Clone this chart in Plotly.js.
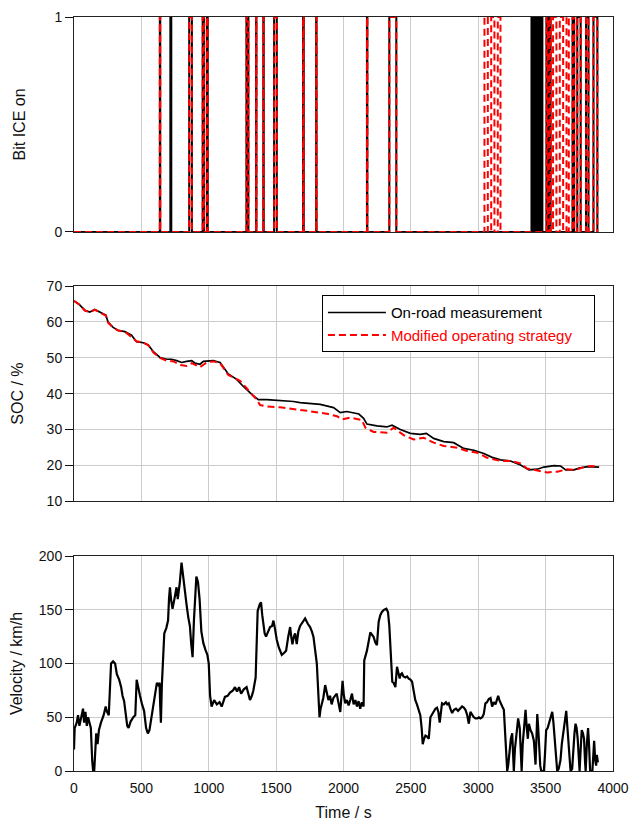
<!DOCTYPE html>
<html>
<head>
<meta charset="utf-8">
<script src="https://cdn.plot.ly/plotly-3.0.1.min.js"></script>
<style>html,body{margin:0;padding:0;background:#fff;}#chart{width:630px;height:822px;}</style>
</head>
<body>
<div id="chart"></div>
<script>
// ---- Bit ICE on: on-intervals (start / end, s) ----
const iceOnRoadStart = [637, 715, 855, 955, 986, 1280, 1351, 1405, 1485, 1700, 1797, 2174, 2340, 3395, 3408, 3430, 3452, 3470, 3507, 3530, 3700, 3735, 3800, 3855];
const iceOnRoadEnd   = [640, 722, 875, 964, 992, 1294, 1354, 1408, 1505, 1705, 1800, 2177, 2392, 3398, 3420, 3442, 3464, 3476, 3515, 3537, 3712, 3760, 3818, 3884];
const iceModStart = [637, 855, 955, 986, 1280, 1351, 1405, 1485, 1700, 1797, 2174, 2340, 3046, 3096, 3145, 3507, 3530, 3555, 3605, 3655, 3700, 3735, 3800, 3855];
const iceModEnd   = [640, 875, 964, 992, 1294, 1354, 1408, 1505, 1705, 1800, 2177, 2392, 3071, 3120, 3165, 3515, 3537, 3580, 3630, 3672, 3712, 3760, 3818, 3884];
const iceEndTime = 3890;

// ---- SOC / % ----
const socOnRoadTime = [0,42,80,117,154,191,236,253,290,327,377,427,464,514,551,589,638,688,724,762,799,836,874,898,935,960,998,1034,1084,1108,1145,1207,1257,1331,1368,1430,1505,1579,1629,1678,1752,1827,1926,1976,2025,2114,2149,2174,2248,2322,2360,2422,2496,2570,2615,2669,2744,2818,2892,2967,3041,3103,3165,3239,3314,3376,3438,3487,3562,3611,3649,3711,3748,3810,3897];
const socOnRoad     = [65.9,64.8,63.3,62.8,63.5,62.8,61.9,60.0,58.5,57.7,57.3,56.3,54.5,54.2,53.6,51.7,50.1,49.6,49.6,49.2,48.7,49.0,49.2,48.5,48.2,49.0,49.2,49.2,48.7,47.5,45.5,44.0,42.0,39.4,38.3,38.3,38.1,38.0,37.8,37.5,37.2,37.0,36.1,34.7,35.0,34.3,33.1,31.5,31.0,30.7,31.2,30.0,28.9,28.6,28.9,27.5,26.6,26.3,24.7,24.2,23.3,22.2,21.5,21.2,20.1,18.7,18.9,19.5,19.9,19.8,18.7,18.7,19.2,19.6,19.5];
const socModTime = [0,42,80,117,154,191,236,253,290,327,377,427,464,514,551,589,638,688,740,786,836,874,935,973,998,1034,1084,1145,1232,1282,1356,1381,1430,1530,1629,1728,1815,1877,1951,1988,2050,2137,2162,2223,2322,2372,2446,2520,2595,2669,2744,2843,2917,2992,3066,3165,3239,3314,3363,3413,3512,3587,3661,3723,3785,3835,3897];
const socMod     = [65.9,64.8,63.2,62.7,63.4,62.7,61.8,59.8,58.4,57.6,57.3,55.8,54.6,54.3,53.5,51.5,50.0,49.2,49.0,48.0,47.7,48.5,47.4,48.4,48.9,49.0,48.5,45.2,43.6,41.5,38.3,36.8,36.4,36.2,35.6,35.2,34.7,34.4,33.7,32.8,33.3,32.6,30.5,29.3,29.1,30.5,28.4,27.2,27.7,26.3,25.4,24.9,24.0,23.5,22.1,21.2,21.2,20.5,19.1,18.7,18.0,18.2,18.9,18.7,19.5,19.8,19.6];

// ---- Velocity / km/h ----
const velTime = [0,5,20,30,40,50,60,67,75,85,95,105,115,125,135,142,150,158,165,175,185,200,220,235,245,258,265,275,290,305,318,335,350,360,372,385,395,405,420,440,455,465,475,490,505,520,535,548,560,575,590,605,615,625,635,640,645,652,660,670,685,698,705,712,720,731,745,761,770,785,798,810,823,835,848,860,870,880,890,900,908,920,932,945,960,975,990,1000,1010,1021,1040,1060,1080,1096,1120,1140,1158,1180,1195,1210,1225,1240,1260,1281,1295,1306,1320,1331,1348,1355,1363,1378,1388,1397,1405,1415,1425,1440,1455,1470,1480,1492,1505,1520,1542,1560,1574,1590,1604,1612,1621,1631,1641,1653,1665,1678,1695,1715,1735,1752,1765,1777,1790,1802,1812,1822,1830,1839,1850,1864,1875,1888,1900,1912,1925,1939,1950,1960,1976,1985,1993,2003,2013,2025,2038,2050,2063,2075,2088,2100,2112,2124,2136,2149,2154,2174,2190,2199,2210,2223,2235,2248,2261,2273,2285,2300,2318,2330,2340,2347,2355,2362,2372,2385,2397,2407,2417,2425,2434,2445,2460,2472,2484,2497,2509,2520,2533,2545,2560,2570,2580,2588,2598,2608,2620,2633,2645,2658,2670,2682,2694,2704,2714,2722,2731,2745,2760,2770,2781,2793,2806,2820,2835,2850,2868,2880,2893,2905,2918,2930,2942,2955,2967,2980,2992,3005,3016,3030,3041,3053,3065,3078,3091,3103,3115,3128,3138,3148,3157,3165,3178,3190,3202,3208,3215,3222,3232,3242,3252,3258,3264,3272,3285,3296,3308,3315,3322,3330,3340,3351,3360,3368,3376,3388,3400,3413,3425,3432,3438,3445,3452,3460,3467,3487,3495,3504,3515,3525,3537,3549,3558,3568,3578,3586,3597,3610,3620,3636,3645,3653,3662,3672,3685,3697,3705,3714,3722,3730,3738,3745,3752,3760,3768,3777,3785,3792,3797,3806,3815,3822,3830,3847,3854,3860,3868,3875,3880,3888];
const velValue = [20,40,45,52,42,48,55,58,45,55,42,50,45,40,10,0,0,20,35,25,38,45,52,60,55,52,78,100,102,100,90,85,78,70,65,50,42,40,46,50,52,85,78,70,62,56,40,35,38,50,62,78,82,80,82,60,45,80,100,128,133,140,160,171,160,151,160,171,160,175,194,180,171,155,143,135,118,106,140,170,181,176,160,130,119,113,108,100,70,60,66,62,64,60,69,70,73,75,78,74,78,72,76,78,70,66,70,75,87,120,149,155,157,145,137,128,125,130,134,135,140,132,122,115,108,110,112,125,134,125,118,125,128,118,130,135,138,142,137,134,130,125,112,100,75,50,58,63,68,80,72,66,70,62,68,70,72,65,55,70,84,70,63,66,61,66,72,62,66,60,65,58,64,60,103,112,122,129,127,125,120,117,139,145,148,150,151,148,135,116,95,83,82,78,97,92,86,90,91,88,87,88,86,85,83,75,66,62,57,52,40,25,30,33,32,30,50,53,56,58,59,55,45,55,63,62,64,62,63,58,54,57,58,56,59,60,59,57,52,44,55,52,50,49,49,50,49,50,53,63,64,67,68,60,64,62,66,70,66,63,60,57,32,10,0,5,20,30,35,15,0,20,40,49,40,20,0,25,45,57,40,30,44,38,35,28,6,30,53,40,20,5,0,0,15,38,40,45,50,55,45,30,10,0,2,10,25,41,50,56,40,20,0,2,20,35,44,40,30,15,0,20,38,35,30,10,0,25,40,25,0,0,15,28,10,5,15,8];

// ---- axis tick labels ----
const timeTicks = [0, 500, 1000, 1500, 2000, 2500, 3000, 3500, 4000];
const bitTicks = [0, 1];
const socTicks = [10, 20, 30, 40, 50, 60, 70];
const velTicks = [0, 50, 100, 150, 200];

function bitSteps(starts, ends, tEnd) {
  const x = [0], y = [0];
  for (let i = 0; i < starts.length; i++) {
    x.push(starts[i], starts[i], ends[i], ends[i]);
    y.push(0, 1, 1, 0);
  }
  x.push(tEnd); y.push(0);
  return {x, y};
}
const bitRoad = bitSteps(iceOnRoadStart, iceOnRoadEnd, iceEndTime);
const bitMod = bitSteps(iceModStart, iceModEnd, iceEndTime);

const black = '#000000', red = '#ff0000';
const dash = '7px,4px';

const traces = [
  {x: bitRoad.x, y: bitRoad.y, xaxis: 'x3', yaxis: 'y3', mode: 'lines', line: {color: black, width: 2}, showlegend: false, hoverinfo: 'skip'},
  {x: bitMod.x, y: bitMod.y, xaxis: 'x3', yaxis: 'y3', mode: 'lines', line: {color: red, width: 2, dash: dash}, showlegend: false, hoverinfo: 'skip'},
  {x: socOnRoadTime, y: socOnRoad, xaxis: 'x2', yaxis: 'y2', mode: 'lines', name: 'On-road measurement', line: {color: black, width: 1.7}},
  {x: socModTime, y: socMod, xaxis: 'x2', yaxis: 'y2', mode: 'lines', name: '<span style="color:#ff0000">Modified operating strategy</span>&#160;&#160;&#160;&#160;', line: {color: red, width: 2, dash: dash}},
  {x: velTime, y: velValue, xaxis: 'x', yaxis: 'y', mode: 'lines', line: {color: black, width: 2.2}, showlegend: false}
];

const font = {family: 'Liberation Sans, Arial, sans-serif', size: 14, color: '#111'};
const gridColor = '#cccccc';
function xAx(anchor, showLabels) {
  return {
    anchor: anchor, range: [0, 4000], tickvals: timeTicks, ticktext: timeTicks.map(String),
    showticklabels: showLabels, ticks: showLabels ? 'outside' : '', ticklen: 4, tickcolor: 'rgba(0,0,0,0)',
    showgrid: true, gridcolor: gridColor, gridwidth: 1, zeroline: false,
    showline: true, mirror: true, linecolor: '#222', linewidth: 1,
    tickfont: {size: 14, color: '#111'}
  };
}
function yAx(anchor, domain, range, ticks, title, standoff) {
  return {
    anchor: anchor, domain: domain, range: range, tickvals: ticks, ticktext: ticks.map(String),
    ticks: 'outside', ticklen: 8, tickcolor: '#111', tickwidth: 1,
    showgrid: true, gridcolor: gridColor, gridwidth: 1, zeroline: false,
    showline: true, mirror: true, linecolor: '#222', linewidth: 1,
    tickfont: {size: 14, color: '#111'},
    title: {text: title, font: {size: 16, color: '#111'}, standoff: standoff}
  };
}

const layout = {
  width: 630, height: 822,
  margin: {l: 74, r: 17, t: 17, b: 51},
  paper_bgcolor: '#fff', plot_bgcolor: '#fff',
  font: font,
  showlegend: true,
  legend: {
    x: 0.46, y: 0.631, xanchor: 'left', yanchor: 'top',
    bgcolor: '#fff', bordercolor: '#000', borderwidth: 1,
    font: {size: 15, color: '#000'}, itemwidth: 58, tracegroupgap: 0
  },
  xaxis: Object.assign(xAx('y', true), {title: {text: 'Time / s', font: {size: 16, color: '#111'}, standoff: 12}}),
  yaxis: yAx('x', [0, 0.285], [0, 200], velTicks, 'Velocity / km/h', 12),
  xaxis2: xAx('y2', false),
  yaxis2: yAx('x2', [0.358, 0.643], [10, 70], socTicks, 'SOC / %', 19),
  xaxis3: xAx('y3', false),
  yaxis3: yAx('x3', [0.715, 1], [0, 1], bitTicks, 'Bit ICE on', 24)
};

Plotly.newPlot('chart', traces, layout, {displayModeBar: false, staticPlot: true});
</script>
</body>
</html>
